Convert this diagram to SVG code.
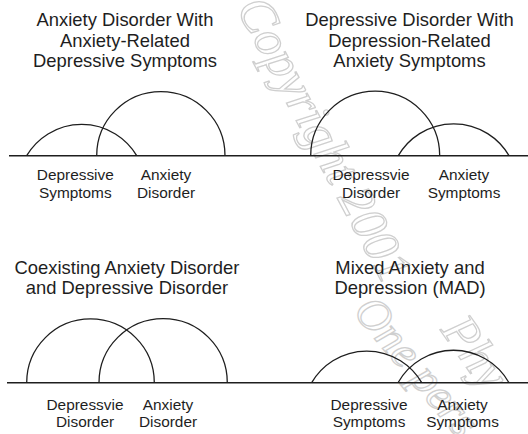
<svg xmlns="http://www.w3.org/2000/svg" width="528" height="434" viewBox="0 0 528 434">
<style>
.t{font-family:"Liberation Sans",Arial,sans-serif;font-size:18.4px;fill:#1e1e1e;text-anchor:middle}
.l{font-family:"Liberation Sans",Arial,sans-serif;font-size:15.4px;fill:#1e1e1e;text-anchor:middle}
.arc{fill:none;stroke:#1e1e1e;stroke-width:1.3}
.base{fill:none;stroke:#1e1e1e;stroke-width:1.4}
.wm{font-family:"Liberation Serif","Times New Roman",serif;font-style:italic;fill:none;stroke:#cfcfcf;stroke-width:1.3}
</style>
<g id="watermark">
<text class="wm" font-size="50" transform="translate(236,8) rotate(62)">Copyright 2001</text>
<text class="wm" font-size="50" transform="translate(440,330) rotate(55)">Phy</text>
<text class="wm" font-size="46" transform="translate(352,312) rotate(50)">One pers</text>
</g>
<g id="connectors">
<line class="base" x1="9" y1="155.7" x2="528" y2="155.7"/>
<line class="base" x1="7" y1="382.7" x2="528" y2="382.7"/>
</g>
<g id="panel1">
<g id="p1-title">
<text class="t" x="125" y="26">Anxiety Disorder With</text>
<text class="t" x="125" y="46.5">Anxiety-Related</text>
<text class="t" x="125" y="67">Depressive Symptoms</text>
</g>
<g id="p1-depressive-symptoms">
<path class="arc" d="M26.7 155.7 A64 64 0 0 1 136.7 155.7"/>
<text class="l" x="75.3" y="180">Depressive</text>
<text class="l" x="75.3" y="197.5">Symptoms</text>
</g>
<g id="p1-anxiety-disorder">
<path class="arc" d="M96.7 155.7 A64.15 64.15 0 0 1 225 155.7"/>
<text class="l" x="166" y="180">Anxiety</text>
<text class="l" x="166" y="197.5">Disorder</text>
</g>
</g>
<g id="panel2">
<g id="p2-title">
<text class="t" x="409.5" y="26">Depressive Disorder With</text>
<text class="t" x="409.5" y="46.5">Depression-Related</text>
<text class="t" x="409.5" y="67">Anxiety Symptoms</text>
</g>
<g id="p2-depressive-disorder">
<path class="arc" d="M310.7 155.7 A64.5 64.5 0 0 1 439.7 155.7"/>
<text class="l" x="371" y="180">Depressvie</text>
<text class="l" x="371" y="197.5">Disorder</text>
</g>
<g id="p2-anxiety-symptoms">
<path class="arc" d="M398.3 155.7 A64 64 0 0 1 509 155.7"/>
<text class="l" x="464" y="180">Anxiety</text>
<text class="l" x="464" y="197.5">Symptoms</text>
</g>
</g>
<g id="panel3">
<g id="p3-title">
<text class="t" x="127" y="273.5">Coexisting Anxiety Disorder</text>
<text class="t" x="127" y="294">and Depressive Disorder</text>
</g>
<g id="p3-depressive-disorder">
<path class="arc" d="M26.7 382.7 A63.8 63.8 0 0 1 154.3 382.7"/>
<text class="l" x="85" y="409.5">Depressvie</text>
<text class="l" x="85" y="427.2">Disorder</text>
</g>
<g id="p3-anxiety-disorder">
<path class="arc" d="M99 382.7 A64.15 64.15 0 0 1 227.3 382.7"/>
<text class="l" x="168" y="409.5">Anxiety</text>
<text class="l" x="168" y="427.2">Disorder</text>
</g>
</g>
<g id="panel4">
<g id="p4-title">
<text class="t" x="410" y="273.5">Mixed Anxiety and</text>
<text class="t" x="410" y="294">Depression (MAD)</text>
</g>
<g id="p4-depressive-symptoms">
<path class="arc" d="M311.7 382.7 A63.6 63.6 0 0 1 421.7 382.7"/>
<text class="l" x="369" y="409.5">Depressive</text>
<text class="l" x="369" y="427.2">Symptoms</text>
</g>
<g id="p4-anxiety-symptoms">
<path class="arc" d="M398 382.7 A63.7 63.7 0 0 1 509 382.7"/>
<text class="l" x="462.5" y="409.5">Anxiety</text>
<text class="l" x="462.5" y="427.2">Symptoms</text>
</g>
</g>
</svg>
